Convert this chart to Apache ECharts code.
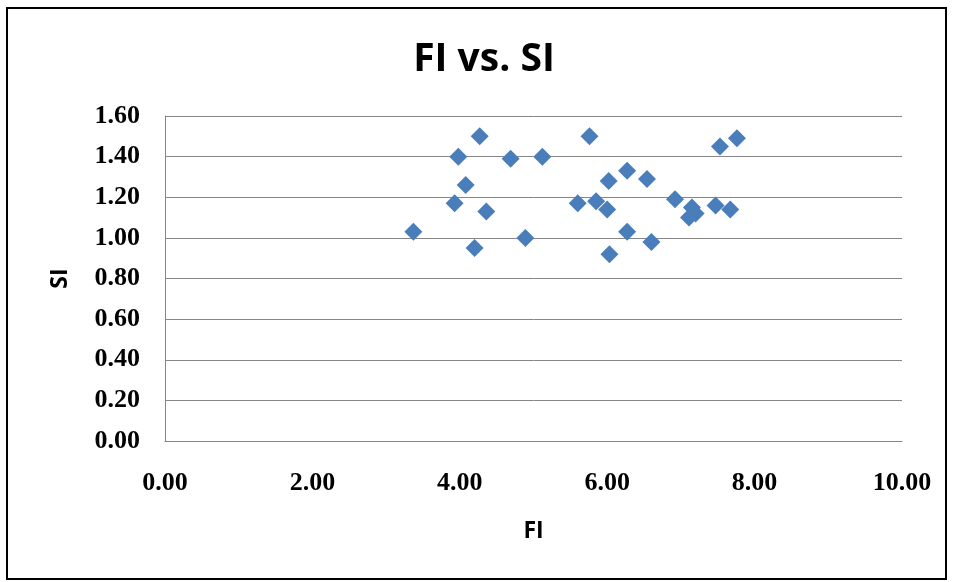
<!DOCTYPE html>
<html><head><meta charset="utf-8">
<script src="https://cdn.jsdelivr.net/npm/echarts@6/dist/echarts.min.js"></script>
<style>html,body{margin:0;padding:0;background:#fff}#c{width:953px;height:582px}</style>
</head><body><div id="c"></div>
<script>
const titleText = "FI vs. SI";
const xName = "FI";
const yName = "SI";
const fiValues = [3.37,3.93,3.98,4.08,4.20,4.27,4.36,4.69,4.89,5.12,5.60,5.76,5.85,6.00,6.02,6.03,6.27,6.27,6.54,6.60,6.92,7.11,7.15,7.20,7.47,7.53,7.67,7.76];
const siValues = [1.03,1.17,1.40,1.26,0.95,1.50,1.13,1.39,1.00,1.40,1.17,1.50,1.18,1.14,1.28,0.92,1.33,1.03,1.29,0.98,1.19,1.10,1.15,1.12,1.16,1.45,1.14,1.49];
const points = fiValues.map((x,i)=>[x, siValues[i]]);

const sansBold = '"Open Sans","DejaVu Sans",sans-serif';
const serif = '"Liberation Serif","DejaVu Serif",serif';
const chart = echarts.init(document.getElementById('c'), null, {renderer:'canvas'});
chart.setOption({
  animation:false,
  backgroundColor:'#fff',
  title:{text:titleText,left:479,textAlign:'center',top:35,
    textStyle:{fontFamily:sansBold,fontWeight:'bold',fontSize:39,color:'#000'}},
  graphic:[{type:'rect',shape:{x:7,y:8,width:939,height:571},style:{fill:'none',stroke:'#000',lineWidth:2},z:-1}],
  grid:{left:165,right:51,top:116,bottom:141},
  xAxis:{type:'value',min:0,max:10,interval:2,
    name:xName,nameLocation:'middle',nameGap:79,
    nameTextStyle:{fontFamily:sansBold,fontWeight:'bold',fontSize:23,color:'#000'},
    axisLine:{show:true,lineStyle:{color:'#868686',width:1}},
    axisTick:{show:false},splitLine:{show:false},
    axisLabel:{formatter:v=>v.toFixed(2),margin:29,fontFamily:serif,fontWeight:'bold',fontSize:26,color:'#000'}},
  yAxis:{type:'value',min:0,max:1.6,interval:0.2,
    name:yName,nameLocation:'middle',nameGap:93,nameRotate:90,
    nameTextStyle:{fontFamily:sansBold,fontWeight:'bold',fontSize:23,color:'#000'},
    axisLine:{show:true,lineStyle:{color:'#868686',width:1}},
    axisTick:{show:false},
    splitLine:{show:true,lineStyle:{color:'#868686',width:1}},
    axisLabel:{formatter:v=>v.toFixed(2),margin:25,fontFamily:serif,fontWeight:'bold',fontSize:26,color:'#000'}},
  series:[{type:'scatter',data:points,symbol:'diamond',symbolSize:18,
    itemStyle:{color:'#4A7EBB',opacity:1}}]
});
</script></body></html>
